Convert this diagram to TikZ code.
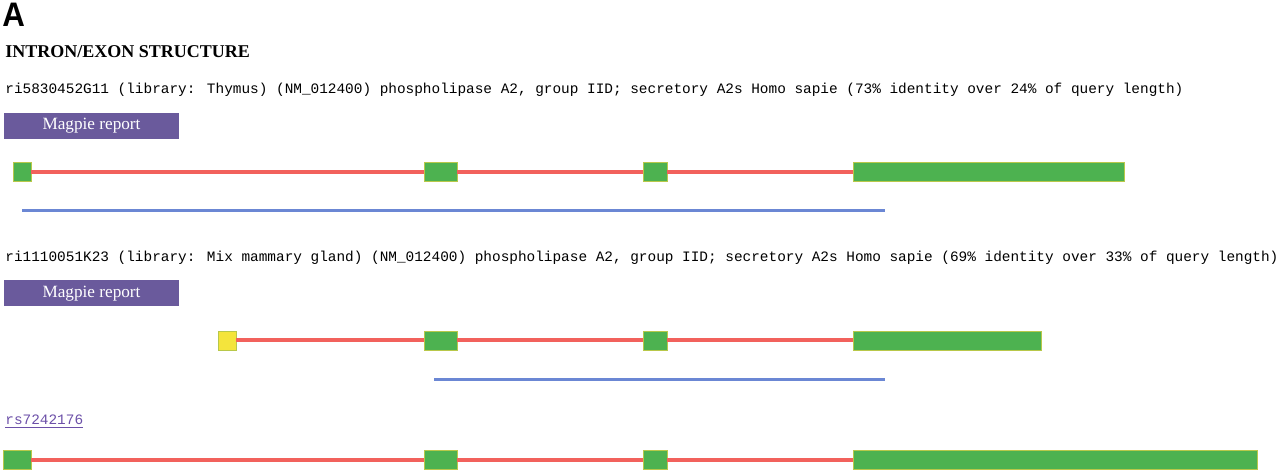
\documentclass[tikz,border=0pt]{standalone}
\usepackage{fontspec}
\setmainfont{Liberation Serif}
\newfontfamily\monofont{Liberation Mono}
\newfontfamily\panelfont{Liberation Sans}
\usepackage{xcolor}
\definecolor{exongreen}{HTML}{4DB250}
\definecolor{exonedge}{HTML}{B8C84A}
\definecolor{utryellow}{HTML}{F4E43C}
\definecolor{intronred}{HTML}{F2615C}
\definecolor{hitblue}{HTML}{6B87D4}
\definecolor{magpiepurple}{HTML}{6A5A9C}
\definecolor{linkpurple}{HTML}{6C50A8}

\begin{document}
\begin{tikzpicture}[x=0.5pt,y=-0.5pt,
    exon/.style={fill=exongreen, draw=exonedge, line width=0.2pt, inner sep=0pt, minimum height=9.5pt},
    intron/.style={draw=intronred, line width=2pt},
    hit/.style={draw=hitblue, line width=1.5pt},
    mono/.style={font=\monofont\fontsize{7.2}{9}\selectfont, inner sep=0pt, anchor=west},
    magpiebox/.style={fill=magpiepurple, text=white, font=\fontsize{8.6}{10}\selectfont, minimum width=87.5pt, minimum height=13pt, inner sep=0pt}]
    \useasboundingbox (0,0) rectangle (1280,470);
    % Titulo
    \node[font=\panelfont\bfseries\fontsize{17}{18}\selectfont, xscale=0.92, anchor=base west, inner sep=0pt] (panel) at (2,27) {A};
    \node[font=\bfseries\fontsize{9}{10}\selectfont, anchor=base west, inner sep=0pt] (head) at (5,58) {INTRON/EXON STRUCTURE};
    % Clones
    \node[mono] (clone1) at (5,90) {ri5830452G11 (library: Thymus) (NM\_012400) phospholipase A2, group IID; secretory A2s Homo sapie (73\% identity over 24\% of query length)};
    \node[magpiebox] (mag1) at (91.5,126) {Magpie report};
    \node[mono] (clone2) at (5,258) {ri1110051K23 (library: Mix mammary gland) (NM\_012400) phospholipase A2, group IID; secretory A2s Homo sapie (69\% identity over 33\% of query length)};
    \node[magpiebox] (mag2) at (91.5,293.5) {Magpie report};
    \node[mono, text=linkpurple] (snp) at (5,422) {\underline{rs7242176}};
    % Primeiro e ultimo exon
    \node[exon, minimum width=9pt] (t1e1) at (22,172) {};
    \node[exon, minimum width=135.5pt] (t1e4) at (988.5,172) {};
    \node[exon, fill=utryellow, minimum width=9pt] (t2e1) at (227,340.5) {};
    \node[exon, minimum width=94pt] (t2e4) at (947,340.5) {};
    \node[exon, minimum width=14pt] (t3e1) at (17,459.5) {};
    \node[exon, minimum width=202pt] (t3e4) at (1055,459.5) {};
    % Exons internos e introns
    \foreach \tk/\y in {1/172,2/340.5,3/459.5} {
        \node[exon, minimum width=16.5pt] (t\tk e2) at (440.5,\y) {};
        \node[exon, minimum width=12pt] (t\tk e3) at (655,\y) {};
        \draw[intron] (t\tk e1) -- (t\tk e2) -- (t\tk e3) -- (t\tk e4);
    }
    % Alinhamentos
    \coordinate (h1a) at (22,211);
    \coordinate (h1b) at (885,211);
    \coordinate (h2a) at (434,379);
    \coordinate (h2b) at (885,379);
    \draw[hit] (h1a) -- (h1b);
    \draw[hit] (h2a) -- (h2b);
\end{tikzpicture}
\end{document}
